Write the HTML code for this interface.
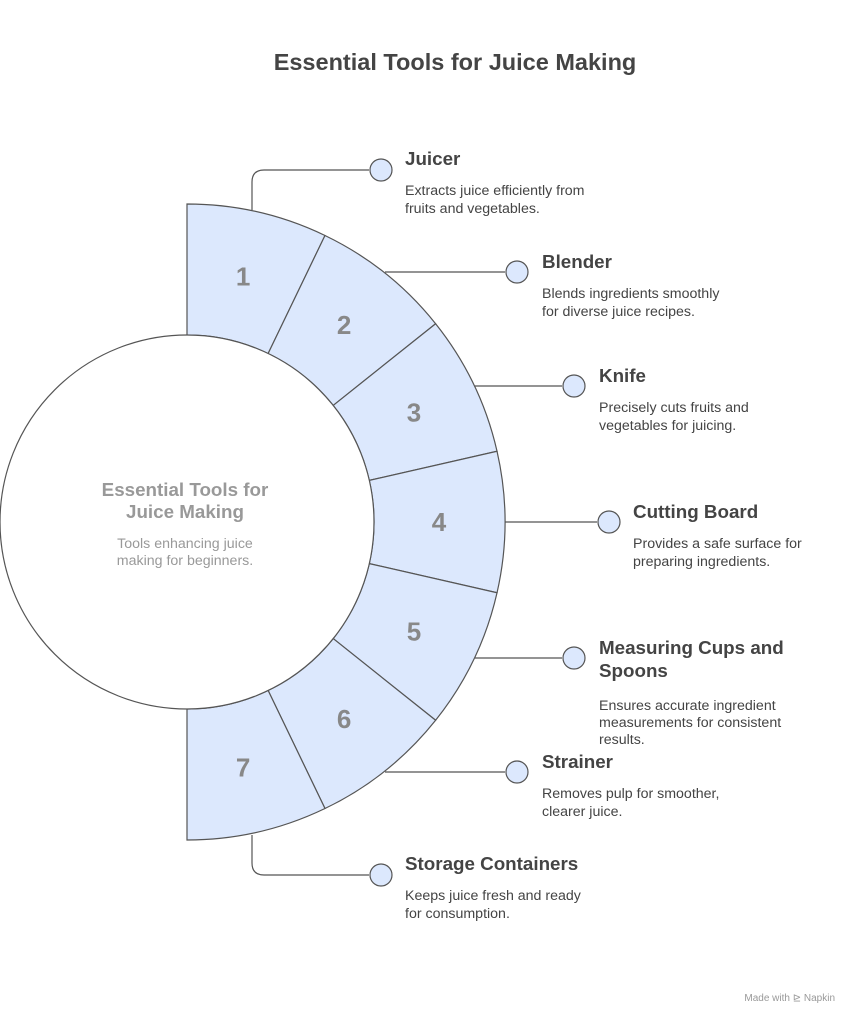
<!DOCTYPE html>
<html><head><meta charset="utf-8"><style>
body{margin:0;background:#fff;width:859px;height:1024px;overflow:hidden;font-family:"Liberation Sans",sans-serif}
</style></head><body>
<svg width="859" height="1024" viewBox="0 0 859 1024" xmlns="http://www.w3.org/2000/svg" font-family="Liberation Sans, sans-serif">
<rect width="859" height="1024" fill="#fff"/>
<text x="455" y="70" text-anchor="middle" font-size="23.5" font-weight="bold" fill="#444">Essential Tools for Juice Making</text>
<g id="ring" stroke="#555" stroke-width="1.2" fill="#dce8fd"></g>
<circle cx="187" cy="522" r="187" fill="#fff" stroke="#555" stroke-width="1.2"/>
<text x="185" y="496" text-anchor="middle" font-size="18.8" font-weight="bold" fill="#999">Essential Tools for</text>
<text x="185" y="518" text-anchor="middle" font-size="18.8" font-weight="bold" fill="#999">Juice Making</text>
<text x="185" y="548" text-anchor="middle" font-size="14.2" fill="#999">Tools enhancing juice</text>
<text x="185" y="565" text-anchor="middle" font-size="14.2" fill="#999">making for beginners.</text>
<g fill="none" stroke="#555" stroke-width="1.2">
<path d="M252 210 V182 Q252 170 264 170 H369"/>
<path d="M385 272 H505"/>
<path d="M475 386 H562"/>
<path d="M505 522 H597"/>
<path d="M475 658 H562"/>
<path d="M385 772 H505"/>
<path d="M252 835 V863 Q252 875 264 875 H369"/>
</g>
<g fill="#dce8fd" stroke="#555" stroke-width="1.2">
<circle cx="381" cy="170" r="11"/><circle cx="517" cy="272" r="11"/><circle cx="574" cy="386" r="11"/>
<circle cx="609" cy="522" r="11"/><circle cx="574" cy="658" r="11"/><circle cx="517" cy="772" r="11"/>
<circle cx="381" cy="875" r="11"/>
</g>
<g font-size="18.8" font-weight="bold" fill="#444">
<text x="405" y="165">Juicer</text>
<text x="542" y="268">Blender</text>
<text x="599" y="382">Knife</text>
<text x="633" y="518">Cutting Board</text>
<text x="599" y="654">Measuring Cups and</text>
<text x="599" y="677">Spoons</text>
<text x="542" y="768">Strainer</text>
<text x="405" y="870">Storage Containers</text>
</g>
<g font-size="14.2" fill="#444">
<text x="405" y="195">Extracts juice efficiently from</text><text x="405" y="213">fruits and vegetables.</text>
<text x="542" y="298">Blends ingredients smoothly</text><text x="542" y="316">for diverse juice recipes.</text>
<text x="599" y="412">Precisely cuts fruits and</text><text x="599" y="430">vegetables for juicing.</text>
<text x="633" y="548">Provides a safe surface for</text><text x="633" y="566">preparing ingredients.</text>
<text x="599" y="710">Ensures accurate ingredient</text><text x="599" y="727">measurements for consistent</text><text x="599" y="744">results.</text>
<text x="542" y="798">Removes pulp for smoother,</text><text x="542" y="816">clearer juice.</text>
<text x="405" y="900">Keeps juice fresh and ready</text><text x="405" y="918">for consumption.</text>
</g>
<g id="nums" font-size="26" font-weight="bold" fill="#888" text-anchor="middle"></g>
<text x="835" y="1001" text-anchor="end" font-size="10" fill="#999">Made with ⊵ Napkin</text>
<script>
var cx=187,cy=522,r1=187,r2=318,g=document.getElementById('ring'),n=document.getElementById('nums');
for(var i=0;i<7;i++){var a1=(90-i*180/7)*Math.PI/180,a2=(90-(i+1)*180/7)*Math.PI/180;
function p(r,a){return (cx+r*Math.cos(a)).toFixed(2)+' '+(cy-r*Math.sin(a)).toFixed(2)}
var d='M'+p(r1,a1)+' L'+p(r2,a1)+' A'+r2+' '+r2+' 0 0 1 '+p(r2,a2)+' L'+p(r1,a2)+' A'+r1+' '+r1+' 0 0 0 '+p(r1,a1)+'Z';
var e=document.createElementNS('http://www.w3.org/2000/svg','path');e.setAttribute('d',d);g.appendChild(e);
var am=(a1+a2)/2,t=document.createElementNS('http://www.w3.org/2000/svg','text');
t.setAttribute('x',cx+252*Math.cos(am));t.setAttribute('y',cy-252*Math.sin(am)+9);t.textContent=i+1;n.appendChild(t);}
</script>
</svg>
</body></html>
